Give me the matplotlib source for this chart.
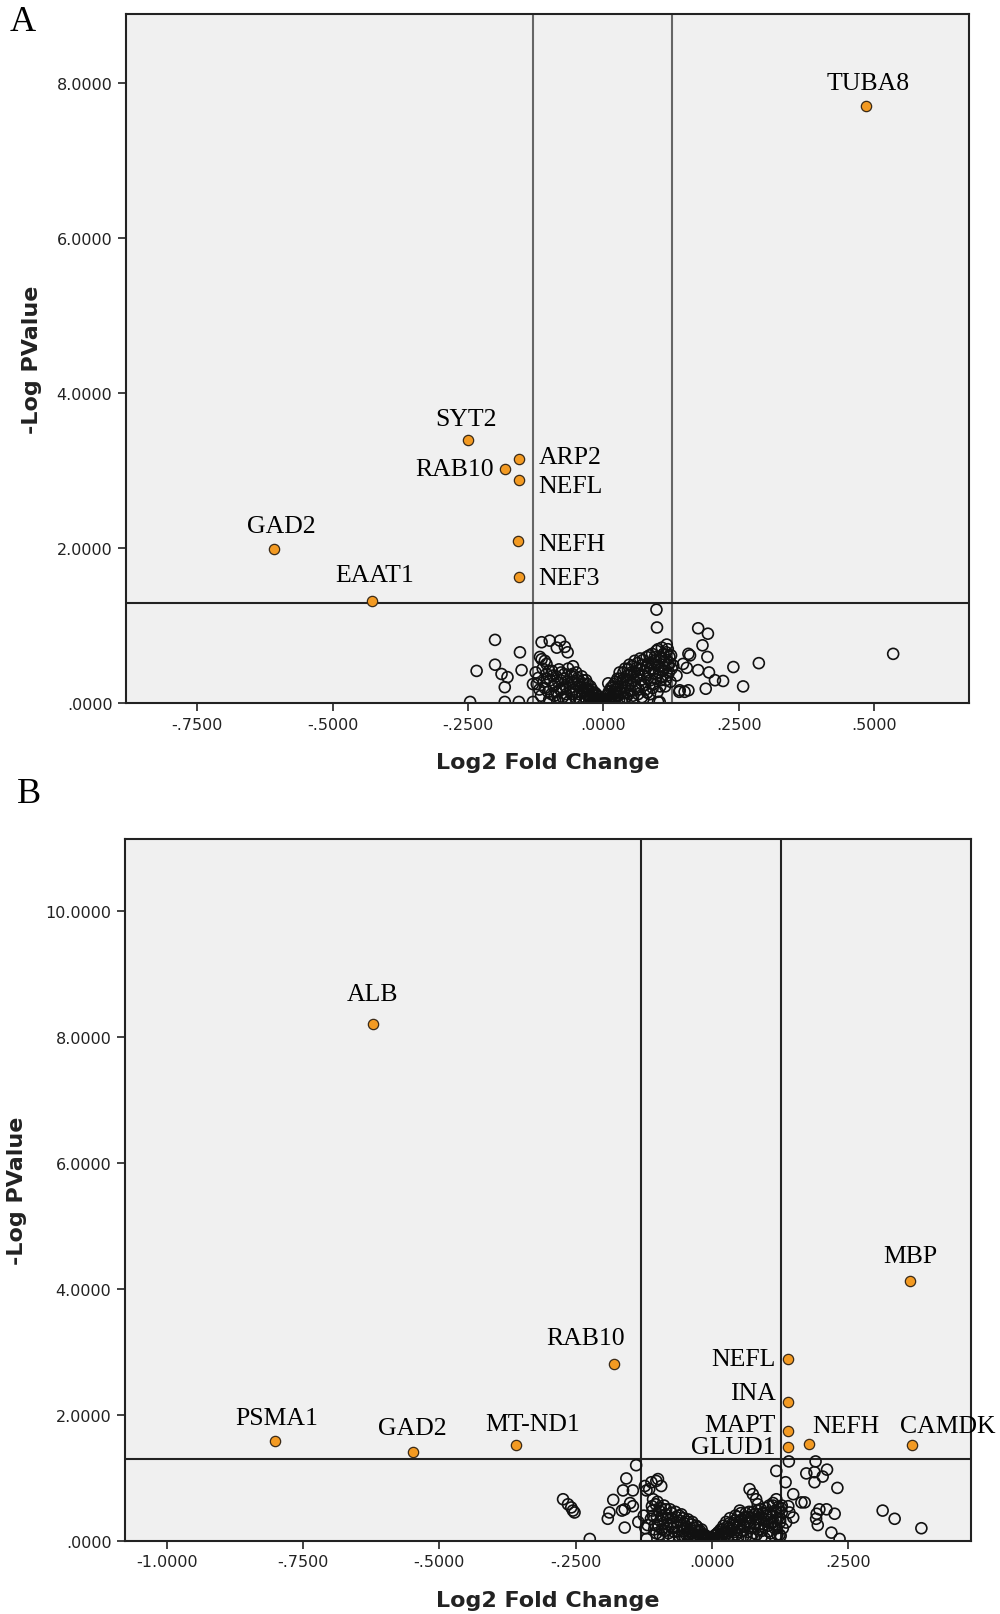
import numpy as np
import matplotlib.pyplot as plt
from matplotlib.ticker import FuncFormatter

# ---- panel A data ----
a_genes = ["TUBA8", "SYT2", "ARP2", "RAB10", "NEFL", "NEFH", "NEF3", "GAD2", "EAAT1"]
a_sig_fc = [0.485, -0.249, -0.156, -0.181, -0.156, -0.158, -0.156, -0.608, -0.428]
a_sig_p = [7.71, 3.40, 3.15, 3.03, 2.88, 2.09, 1.63, 1.99, 1.316]

a_fc = [-0.246, -0.234, -0.200, -0.200, -0.188, -0.177, -0.182, -0.182, -0.156, -0.130, -0.099,
        -0.154, -0.151, -0.114, -0.099, -0.080, -0.086, -0.071, -0.066, -0.117, -0.108, -0.105,
        -0.114, -0.130, -0.123,
        0.098, 0.099, 0.117, 0.009, 0.157, 0.141, 0.157, 0.101, 0.175, 0.193, 0.183, 0.192,
        0.160, 0.154, 0.175, 0.195, 0.206, 0.221, 0.189, 0.240, 0.287, 0.258, 0.140, 0.150,
        0.535, 0.104, 0.129, 0.147, 0.135, 0.125,
        -0.125, -0.120, -0.118, -0.115, -0.112, -0.110, -0.105, -0.102, -0.100, -0.098, -0.095,
        -0.092, -0.090, -0.087, -0.085, -0.083, -0.080, -0.078, -0.075, -0.073, -0.070, -0.068,
        -0.065, -0.063, -0.060, -0.058, -0.056, -0.055, -0.052, -0.050, -0.048, -0.046, -0.044,
        -0.042, -0.040, -0.038, -0.036, -0.034, -0.032, -0.030, -0.028, -0.026, -0.024, -0.022,
        -0.020, -0.018, -0.016, -0.014, -0.012, -0.010, -0.008, -0.006, -0.004, -0.002,
        0.002, 0.004, 0.006, 0.008, 0.010, 0.012, 0.014, 0.016, 0.018, 0.020, 0.022, 0.024,
        0.026, 0.028, 0.030, 0.032, 0.034, 0.036, 0.038, 0.040, 0.042, 0.044, 0.046, 0.048,
        0.050, 0.052, 0.054, 0.056, 0.058, 0.060, 0.062, 0.064, 0.066, 0.068, 0.070, 0.072,
        0.074, 0.076, 0.078, 0.080, 0.082, 0.084, 0.086, 0.088, 0.090, 0.092, 0.094, 0.096,
        0.098, 0.100, 0.102, 0.104, 0.106, 0.108, 0.110, 0.112, 0.114, 0.116, 0.118, 0.120,
        0.122, 0.124, 0.126]
a_p = [0.02, 0.42, 0.82, 0.50, 0.38, 0.34, 0.21, 0.02, 0.02, 0.02, 0.02,
       0.66, 0.43, 0.79, 0.81, 0.81, 0.72, 0.73, 0.66, 0.60, 0.55, 0.51,
       0.57, 0.25, 0.25,
       1.21, 0.98, 0.76, 0.26, 0.64, 0.17, 0.17, 0.02, 0.97, 0.90, 0.75, 0.60,
       0.62, 0.46, 0.43, 0.40, 0.30, 0.29, 0.19, 0.47, 0.52, 0.22, 0.15, 0.15,
       0.64, 0.02, 0.49, 0.51, 0.36, 0.62,
       0.40, 0.33, 0.18, 0.10, 0.45, 0.28, 0.38, 0.15, 0.05, 0.30, 0.42,
       0.22, 0.10, 0.35, 0.03, 0.27, 0.18, 0.40, 0.08, 0.32, 0.22, 0.12,
       0.45, 0.03, 0.36, 0.28, 0.48, 0.18, 0.08, 0.40, 0.30, 0.22, 0.12,
       0.02, 0.35, 0.26, 0.17, 0.08, 0.30, 0.20, 0.12, 0.04, 0.22, 0.15,
       0.08, 0.02, 0.14, 0.07, 0.10, 0.03, 0.05, 0.01, 0.02, 0.04,
       0.02, 0.05, 0.10, 0.03, 0.15, 0.07, 0.20, 0.02, 0.12, 0.25, 0.06, 0.18,
       0.32, 0.10, 0.40, 0.22, 0.03, 0.30, 0.14, 0.45, 0.08, 0.36, 0.24, 0.50,
       0.16, 0.40, 0.04, 0.30, 0.55, 0.20, 0.46, 0.12, 0.36, 0.58, 0.26, 0.50,
       0.06, 0.42, 0.18, 0.60, 0.32, 0.52, 0.12, 0.45, 0.64, 0.25, 0.55, 0.38,
       0.68, 0.15, 0.48, 0.60, 0.30, 0.72, 0.42, 0.55, 0.22, 0.66, 0.36, 0.50,
       0.60, 0.28, 0.45]

# more points in the crowded V of panel A
a_fc_dense = [-0.108, -0.104, -0.100, -0.096, -0.093, -0.089, -0.086, -0.082, -0.079, -0.076,
              -0.072, -0.069, -0.066, -0.062, -0.059, -0.057, -0.054, -0.051, -0.047, -0.045,
              -0.043, -0.039, -0.037, -0.033, -0.031, -0.029, -0.027, -0.025, -0.023, -0.021,
              -0.019, -0.017, -0.015, -0.013, -0.011, -0.009, -0.007, -0.005, -0.003, 0.000,
              0.001, 0.003,
              0.005, 0.009, 0.011, 0.013, 0.015, 0.017, 0.019, 0.021, 0.023, 0.025, 0.027, 0.029,
              0.031, 0.033, 0.035, 0.037, 0.039, 0.041, 0.043, 0.045, 0.047, 0.049, 0.051, 0.053,
              0.055, 0.057, 0.059, 0.061, 0.063, 0.065, 0.067, 0.069, 0.071, 0.073, 0.075, 0.077,
              0.079, 0.081, 0.083, 0.085, 0.087, 0.089, 0.091, 0.093, 0.095, 0.097, 0.099, 0.101,
              0.103, 0.105, 0.107, 0.109, 0.111, 0.113, 0.115, 0.117, 0.119, 0.121, 0.123]
a_p_dense = [0.20, 0.32, 0.42, 0.12, 0.36, 0.25, 0.15, 0.44, 0.30, 0.20,
             0.38, 0.05, 0.28, 0.20, 0.12, 0.38, 0.26, 0.15, 0.33, 0.06,
             0.24, 0.14, 0.30, 0.20, 0.04, 0.25, 0.16, 0.10, 0.05, 0.18,
             0.11, 0.05, 0.02, 0.12, 0.06, 0.08, 0.02, 0.04, 0.01, 0.02,
             0.06, 0.03,
             0.06, 0.12, 0.02, 0.16, 0.09, 0.22, 0.05, 0.15, 0.28, 0.10, 0.22, 0.04,
             0.32, 0.14, 0.26, 0.40, 0.06, 0.20, 0.30, 0.44, 0.12, 0.36, 0.26, 0.48,
             0.10, 0.40, 0.22, 0.34, 0.52, 0.18, 0.44, 0.30, 0.08, 0.56, 0.36, 0.24,
             0.48, 0.14, 0.40, 0.62, 0.30, 0.52, 0.20, 0.44, 0.60, 0.32, 0.50, 0.70,
             0.40, 0.22, 0.58, 0.34, 0.64, 0.46, 0.30, 0.56, 0.70, 0.40, 0.52]

# ---- panel B data ----
b_genes = ["ALB", "MBP", "RAB10", "NEFL", "INA", "MAPT", "GLUD1", "NEFH", "CAMDK",
           "PSMA1", "GAD2", "MT-ND1"]
b_sig_fc = [-0.622, 0.364, -0.179, 0.140, 0.140, 0.140, 0.140, 0.178, 0.367, -0.802, -0.549, -0.360]
b_sig_p = [8.20, 4.12, 2.81, 2.88, 2.21, 1.75, 1.49, 1.54, 1.52, 1.58, 1.41, 1.52]

b_fc = [-0.139, -0.157, -0.273, -0.264, -0.258, -0.255, -0.252, -0.181, -0.163, -0.145, -0.150,
        -0.145, -0.160, -0.165, -0.188, -0.191, -0.160, -0.224, -0.120,
        -0.123, -0.111, -0.102, -0.093, -0.099, -0.120, -0.115, -0.108, -0.125, -0.118, -0.122,
        -0.135,
        0.069, 0.075, 0.081, 0.084, 0.051,
        0.141, 0.190, 0.118, 0.173, 0.188, 0.211, 0.203, 0.188, 0.135, 0.230, 0.149, 0.164,
        0.170, 0.118, 0.112, 0.128, 0.142, 0.149, 0.136, 0.197, 0.210, 0.192, 0.191, 0.194,
        0.225, 0.219, 0.234, 0.313, 0.335, 0.384, 0.128, 0.125, 0.130, 0.120, 0.140, 0.100,
        0.110,
        -0.110, -0.108, -0.105, -0.102, -0.100, -0.097, -0.095, -0.092, -0.090, -0.088, -0.085,
        -0.082, -0.080, -0.077, -0.075, -0.072, -0.070, -0.067, -0.065, -0.062, -0.060, -0.057,
        -0.055, -0.052, -0.050, -0.047, -0.045, -0.042, -0.040, -0.037, -0.035, -0.032, -0.030,
        -0.027, -0.025, -0.022, -0.020, -0.017, -0.015, -0.012, -0.010, -0.007, -0.004, -0.002,
        0.002, 0.005, 0.008, 0.010, 0.013, 0.016, 0.018, 0.021, 0.023, 0.026, 0.028, 0.031,
        0.033, 0.036, 0.038, 0.041, 0.043, 0.046, 0.048, 0.051, 0.053, 0.056, 0.058, 0.061,
        0.063, 0.066, 0.068, 0.071, 0.073, 0.076, 0.078, 0.081, 0.083, 0.086, 0.088, 0.091,
        0.093, 0.096, 0.098, 0.101, 0.104, 0.106, 0.109, 0.112, 0.115, 0.118, 0.121, 0.124,
        0.127]
b_p = [1.20, 0.99, 0.66, 0.58, 0.53, 0.48, 0.45, 0.65, 0.80, 0.80, 0.60,
       0.55, 0.50, 0.48, 0.45, 0.35, 0.21, 0.03, 0.03,
       0.87, 0.93, 0.95, 0.87, 0.98, 0.80, 0.82, 0.66, 0.40, 0.25, 0.20,
       0.30,
       0.82, 0.74, 0.66, 0.58, 0.48,
       1.26, 1.26, 1.11, 1.07, 1.09, 1.13, 1.02, 0.93, 0.93, 0.84, 0.74, 0.61,
       0.61, 0.66, 0.56, 0.56, 0.45, 0.37, 0.29, 0.50, 0.50, 0.43, 0.35, 0.25,
       0.43, 0.13, 0.03, 0.48, 0.35, 0.20, 0.45, 0.35, 0.20, 0.10, 0.55, 0.40,
       0.30,
       0.55, 0.40, 0.25, 0.12, 0.62, 0.48, 0.32, 0.18, 0.05, 0.56, 0.42,
       0.26, 0.12, 0.50, 0.36, 0.20, 0.04, 0.46, 0.30, 0.15, 0.40, 0.25,
       0.08, 0.36, 0.20, 0.10, 0.30, 0.15, 0.03, 0.26, 0.12, 0.20, 0.06,
       0.22, 0.10, 0.16, 0.03, 0.10, 0.05, 0.08, 0.02, 0.04, 0.02, 0.05,
       0.03, 0.08, 0.02, 0.12, 0.05, 0.18, 0.08, 0.24, 0.02, 0.30, 0.12, 0.20,
       0.36, 0.05, 0.28, 0.14, 0.40, 0.22, 0.04, 0.32, 0.44, 0.16, 0.26, 0.38,
       0.08, 0.30, 0.46, 0.20, 0.36, 0.12, 0.42, 0.28, 0.48, 0.18, 0.36, 0.06,
       0.44, 0.26, 0.52, 0.34, 0.15, 0.42, 0.28, 0.60, 0.20, 0.46, 0.36, 0.10,
       0.52]

# more points in the crowded V of panel B
b_fc_dense = [-0.112, -0.109, -0.106, -0.103, -0.101, -0.098, -0.096, -0.094, -0.091, -0.089,
              -0.086, -0.084, -0.081, -0.079, -0.076, -0.074, -0.071, -0.069, -0.066, -0.064,
              -0.061, -0.059, -0.056, -0.054, -0.051, -0.049, -0.046, -0.044, -0.041, -0.039,
              -0.036, -0.034, -0.031, -0.029, -0.026, -0.024, -0.021, -0.019, -0.016, -0.014,
              -0.011, -0.008, -0.005, -0.001,
              0.001, 0.004, 0.007, 0.009, 0.012, 0.015, 0.017, 0.020, 0.022, 0.025, 0.027, 0.030,
              0.032, 0.035, 0.037, 0.040, 0.042, 0.045, 0.047, 0.050, 0.052, 0.055, 0.057, 0.060,
              0.062, 0.065, 0.067, 0.070, 0.072, 0.075, 0.077, 0.080, 0.082, 0.085, 0.087, 0.090,
              0.092, 0.095, 0.097, 0.100, 0.103, 0.105, 0.108, 0.110, 0.113, 0.116, 0.119, 0.122,
              0.125, 0.126]
b_p_dense = [0.35, 0.48, 0.18, 0.58, 0.38, 0.24, 0.10, 0.52, 0.40, 0.28,
             0.16, 0.50, 0.36, 0.06, 0.24, 0.44, 0.30, 0.14, 0.38, 0.22,
             0.08, 0.32, 0.42, 0.16, 0.28, 0.05, 0.22, 0.34, 0.10, 0.20,
             0.30, 0.06, 0.16, 0.24, 0.04, 0.14, 0.08, 0.18, 0.02, 0.10,
             0.05, 0.03, 0.06, 0.02,
             0.05, 0.02, 0.10, 0.05, 0.14, 0.04, 0.10, 0.18, 0.06, 0.14, 0.22, 0.08,
             0.28, 0.16, 0.02, 0.24, 0.32, 0.10, 0.38, 0.26, 0.14, 0.34, 0.06, 0.22,
             0.44, 0.14, 0.38, 0.28, 0.04, 0.46, 0.22, 0.34, 0.10, 0.42, 0.26, 0.50,
             0.16, 0.34, 0.04, 0.44, 0.24, 0.56, 0.12, 0.38, 0.30, 0.48, 0.20, 0.54,
             0.30, 0.08]

# label placement: (dx, dy) in points, horizontal alignment
a_lab = {"TUBA8": (1.5, 16.5, "center"), "SYT2": (-1.5, 15, "center"),
         "ARP2": (14, 1.5, "left"), "RAB10": (-8, 0, "right"), "NEFL": (14, -4.5, "left"),
         "NEFH": (14.5, -2, "left"), "NEF3": (14, -1, "left"), "GAD2": (5, 17, "center"),
         "EAAT1": (2, 19, "center")}
b_lab = {"ALB": (0, 22, "center"), "MBP": (0, 18, "center"), "RAB10": (-21, 18.5, "center"),
         "NEFL": (-9, 0, "right"), "INA": (-9, 6, "right"), "MAPT": (-9, 3.7, "right"),
         "GLUD1": (-9, 0, "right"), "NEFH": (2, 13, "left"), "CAMDK": (-9, 14, "left"),
         "PSMA1": (1.5, 17, "center"), "GAD2": (0, 17, "center"), "MT-ND1": (12, 15.5, "center")}


def fmt(v, pos):
    s = "%.4f" % v
    s = s.replace("0.", ".", 1) if s.startswith("0.") else s
    s = s.replace("-0.", "-.", 1)
    return s


def volcano(ax, fc, p, sfc, sp, genes, labs, xlim, ylim, xt, yt, vcol):
    ax.set_facecolor("#f0f0f0")
    ax.axvline(-0.13, color=vcol, lw=1.5, zorder=1)
    ax.axvline(0.127, color=vcol, lw=1.5, zorder=1)
    ax.axhline(1.301, color="#222222", lw=1.5, zorder=1)
    ax.scatter(fc, p, s=62, facecolors="none", edgecolors="#111111", linewidths=1.2, zorder=2)
    ax.scatter(sfc, sp, s=55, facecolors="#f39a22", edgecolors="#3a2a18", linewidths=0.9, zorder=3)
    for g, x, y in zip(genes, sfc, sp):
        dx, dy, ha = labs[g]
        ax.annotate(g, (x, y), xytext=(dx, dy), textcoords="offset points", ha=ha, va="center",
                    fontsize=18.5, family="Liberation Serif", annotation_clip=False, zorder=4)
    ax.set_xlim(*xlim)
    ax.set_ylim(*ylim)
    ax.set_xticks(xt)
    ax.set_yticks(yt)
    ax.xaxis.set_major_formatter(FuncFormatter(fmt))
    ax.yaxis.set_major_formatter(FuncFormatter(fmt))
    ax.tick_params(length=6, width=1.2, labelsize=11.5, colors="#222222")
    for sp_ in ax.spines.values():
        sp_.set_linewidth(1.5)
        sp_.set_color("#222222")
    ax.set_xlabel("Log2 Fold Change", fontsize=16, fontweight="bold", color="#222222")
    ax.set_ylabel("-Log PValue", fontsize=16, fontweight="bold", color="#222222")


fig = plt.figure(figsize=(10, 16.15), dpi=100)
axA = fig.add_axes([0.1256, 0.5638, 0.969 - 0.1256, 0.991 - 0.5638])
axB = fig.add_axes([0.1246, 0.0453, 0.971 - 0.1246, 0.4796 - 0.0453])

volcano(axA, a_fc + a_fc_dense, a_p + a_p_dense, a_sig_fc, a_sig_p, a_genes, a_lab,
        (-0.882, 0.675), (0, 8.9), [-0.75, -0.5, -0.25, 0, 0.25, 0.5], [0, 2, 4, 6, 8], "#666666")
volcano(axB, b_fc + b_fc_dense, b_p + b_p_dense, b_sig_fc, b_sig_p, b_genes, b_lab,
        (-1.077, 0.475), (0, 11.13), [-1.0, -0.75, -0.5, -0.25, 0, 0.25], [0, 2, 4, 6, 8, 10],
        "#222222")

axA.xaxis.set_label_coords(0.5, -0.071)
axB.xaxis.set_label_coords(0.5, -0.070)
axA.yaxis.set_label_coords(-0.099, 0.5)
axB.yaxis.set_label_coords(-0.115, 0.5)

fig.text(0.023, 0.986, "A", fontsize=26, family="Liberation Serif", ha="center", va="center")
fig.text(0.029, 0.508, "B", fontsize=26, family="Liberation Serif", ha="center", va="center")

fig.savefig("out.png", dpi=100)
